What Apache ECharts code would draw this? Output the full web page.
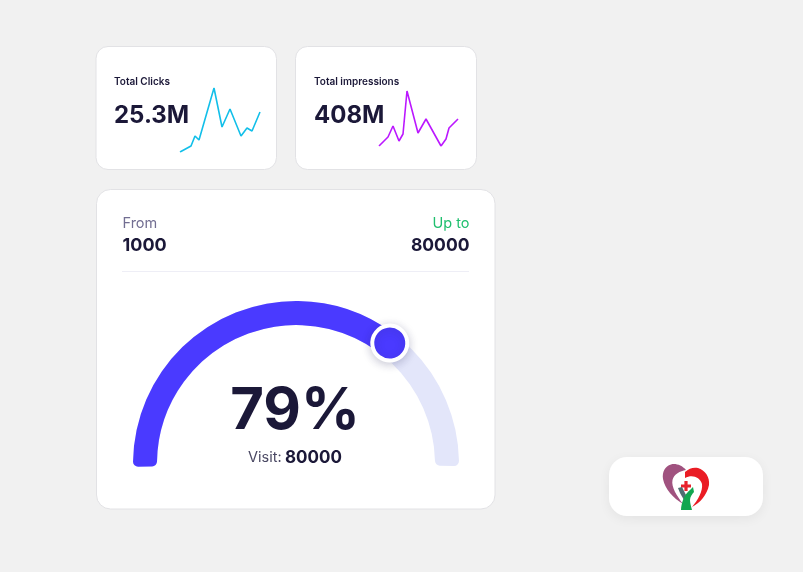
<!DOCTYPE html>
<html>
<head>
  <meta charset="utf-8">
  <title>Dashboard</title>
  <script src="https://cdn.jsdelivr.net/npm/echarts@6/dist/echarts.min.js"></script>
  <style>
    html, body { margin: 0; padding: 0; background: #f1f1f1; }
    #main { width: 803px; height: 572px; }
  </style>
</head>
<body>
  <div id="main"></div>

  <script>
    // sparklines
    const clicksX = [0, 11, 15, 19, 34, 42, 50, 61, 67, 72, 80];
    const clicksY = [0, 6, 16, 12, 64, 25, 43, 16, 24, 21, 40];
    const impressionsX = [0, 9, 14, 20, 24, 28, 39, 47, 62, 67, 70, 79];
    const impressionsY = [0, 9, 20, 5, 12, 55, 13, 27, 0, 7, 18, 27];

    // gauge: the arc stops short of the printed 79
    const gaugeProgress = [71, 29];
    const gaugeTrack = [100];
    const gaugeLabel = '79%';

    const clicksTitle = 'Total Clicks';
    const clicksTotal = '25.3M';
    const impressionsTitle = 'Total impressions';
    const impressionsTotal = '408M';
    const fromLabel = 'From';
    const fromValue = '1000';
    const toLabel = 'Up to';
    const toValue = '80000';
    const visitLabel = 'Visit:';
    const visitValue = '80000';

    const ink = '#1b1838';
    const font = 'Inter, sans-serif';

    // logo shapes
    const logoShapes = {
      logoPurple: ['M686 470C682 465 675 463 671 464.5C665 466 662 472 663 479C665 489 673 498 683 504C677 496 671 487 672.5 480C674 474 680 471 686 470Z', '#a0527f'],
      logoRed: ['M685 478L685 472C689 468 694 467 698 468C705 470 710 477 709 485C707 495 700 503 692 507C698 500 703 491 702 484C700 477 692 474 685 478Z', '#ea1c24'],
      logoCross: ['M684.4 481H687.6V484.4H691V487.6H687.6V491H684.4V487.6H681V484.4H684.4Z', '#e8222c'],
      logoArm: ['M678 488L682 487L686 495L684 500L680 493Z', '#4f6e72'],
      logoStem: ['M681 510L692 510C691 506 690 503 690 500C690 497 692 494 694 492L693 487C689 491 685 494 683 500C682 503 681 506 681 510Z', '#12a650']
    };
    Object.keys(logoShapes).forEach(name => {
      echarts.graphic.registerShape(name, echarts.graphic.extendPath(logoShapes[name][0]));
    });

    function zip(xs, ys) {
      return xs.map((x, i) => [x, ys[i]]);
    }

    function card(x, y, width, height, r, extra) {
      return {
        type: 'rect',
        shape: { x: x, y: y, width: width, height: height, r: r },
        style: Object.assign({ fill: '#fff', stroke: '#e2e2e5', lineWidth: 1 }, extra)
      };
    }

    function label(text, x, y, size, weight, fill, align) {
      return {
        type: 'text',
        style: {
          text: text, x: x, y: y, fill: fill, textAlign: align || 'left', textVerticalAlign: 'middle',
          font: weight + ' ' + size + 'px ' + font
        }
      };
    }

    const chart = echarts.init(document.getElementById('main'));
    chart.setOption({
      backgroundColor: '#f1f1f1',
      animation: false,
      graphic: {
        elements: [
          card(96, 46.5, 180.5, 123, 12),
          card(295.5, 46.5, 181, 123, 12),
          card(96.5, 189.5, 398.5, 319.5, 14),
          card(609, 457, 154, 59, 18, { stroke: null, shadowBlur: 12, shadowColor: 'rgba(0,0,0,0.06)', shadowOffsetY: 3 }),

          label(clicksTitle, 114, 82, 10, 600, ink),
          label(clicksTotal, 114, 116, 24, 700, ink),
          label(impressionsTitle, 314, 82, 10, 600, ink),
          label(impressionsTotal, 314, 116, 24, 700, ink),

          label(fromLabel, 122.5, 224, 14.5, 400, '#726e92'),
          label(fromValue, 122.5, 246, 18, 700, ink),
          label(toLabel, 469.5, 224, 14.5, 400, '#1fbf6e', 'right'),
          label(toValue, 469.5, 246, 17.5, 700, ink, 'right'),
          { type: 'line', shape: { x1: 122, y1: 271.5, x2: 469, y2: 271.5 }, style: { stroke: '#eeeef6', lineWidth: 1 } },

          label(gaugeLabel, 295, 412, 58, 700, ink, 'center'),
          label(visitLabel, 248, 458, 14.5, 400, '#4a4863'),
          label(visitValue, 285, 458, 17, 700, ink)
        ].concat(Object.keys(logoShapes).map(name => ({
          type: name,
          style: { fill: logoShapes[name][1] }
        })))
      },
      grid: [
        { left: 180, top: 88, width: 80, height: 64 },
        { left: 379, top: 90, width: 79, height: 56 }
      ],
      xAxis: [
        { type: 'value', gridIndex: 0, min: 0, max: 80, show: false },
        { type: 'value', gridIndex: 1, min: 0, max: 79, show: false }
      ],
      yAxis: [
        { type: 'value', gridIndex: 0, min: 0, max: 64, show: false },
        { type: 'value', gridIndex: 1, min: 0, max: 56, show: false }
      ],
      series: [
        {
          type: 'line', xAxisIndex: 0, yAxisIndex: 0, data: zip(clicksX, clicksY),
          symbol: 'none', lineStyle: { color: '#12bfe9', width: 1.6 }
        },
        {
          type: 'line', xAxisIndex: 1, yAxisIndex: 1, data: zip(impressionsX, impressionsY),
          symbol: 'none', lineStyle: { color: '#bb18ff', width: 1.6 }
        },
        {
          type: 'pie', center: [296, 464], radius: [139, 163], startAngle: 180.7, endAngle: -0.7,
          silent: true, label: { show: false }, labelLine: { show: false },
          itemStyle: { borderRadius: 5, color: '#e3e6fa' },
          data: gaugeTrack
        },
        {
          type: 'pie', center: [296, 464], radius: [139, 163], startAngle: 181, endAngle: -1,
          silent: true, label: { show: false }, labelLine: { show: false },
          itemStyle: { borderRadius: 5 },
          data: [
            { value: gaugeProgress[0], itemStyle: { color: '#4a3aff' } },
            { value: gaugeProgress[1], itemStyle: { color: 'rgba(0,0,0,0)' } }
          ]
        },
        {
          type: 'gauge', center: [296, 464], radius: 163, startAngle: 180, endAngle: 0, min: 0, max: 100,
          z: 5, silent: true,
          axisLine: { show: false }, axisTick: { show: false }, splitLine: { show: false }, axisLabel: { show: false },
          detail: { show: false }, title: { show: false },
          pointer: { icon: 'circle', length: 35, width: 35, offsetCenter: [0, -135.5] },
          itemStyle: {
            color: '#4a3aff', borderColor: '#fff', borderWidth: 4,
            shadowBlur: 10, shadowColor: 'rgba(40,40,90,0.22)', shadowOffsetY: 2
          },
          data: [gaugeProgress[0]]
        }
      ]
    });
  </script>
</body>
</html>
